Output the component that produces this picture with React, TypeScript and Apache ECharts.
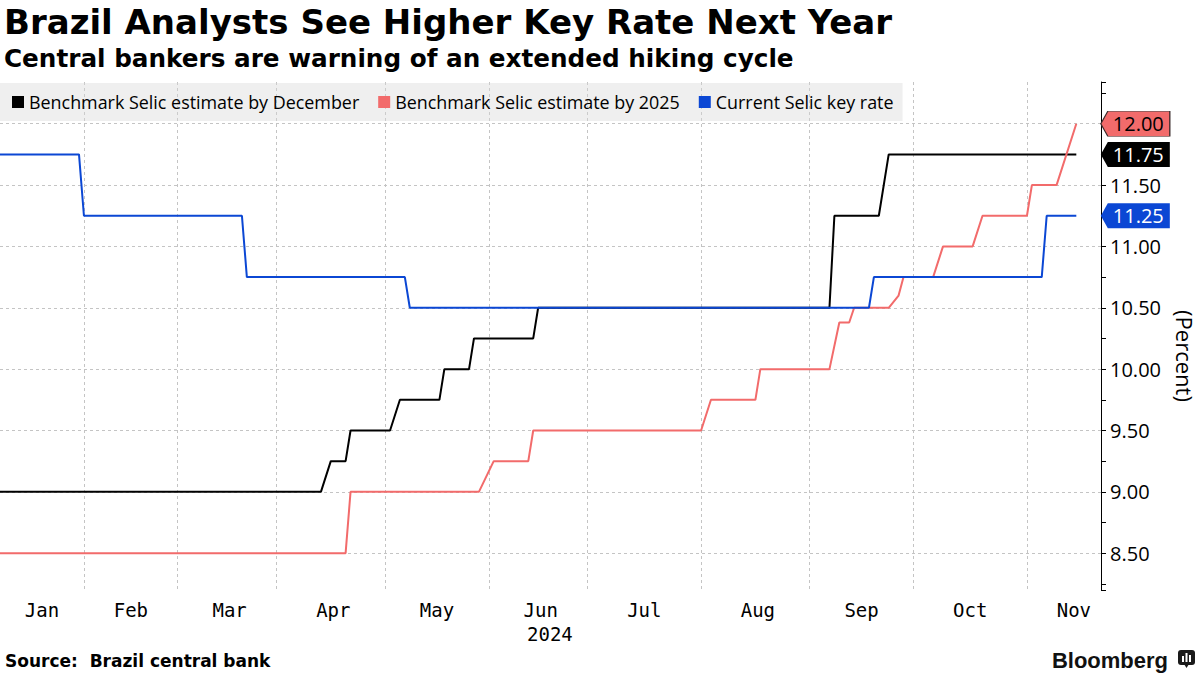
import React, { useEffect, useRef } from "react";
import * as echarts from "echarts";

// ---- calendar (Brazilian business days, 2024) ----
const HOLIDAYS = ["2024-01-01", "2024-02-12", "2024-02-13", "2024-03-29", "2024-05-01", "2024-05-30", "2024-11-15", "2024-11-20", "2024-12-25"];
const FIRST_DAY = "2024-01-09";
const DAY_COUNT = 224;
const MONTH_NAMES = ["Jan", "Feb", "Mar", "Apr", "May", "Jun", "Jul", "Aug", "Sep", "Oct", "Nov", "Dec"];
const YEAR_LABEL = "2024";

// ---- series (change points: [date, percent]) ----
const SERIES_NAMES = [
  "Benchmark Selic estimate by December",
  "Benchmark Selic estimate by 2025",
  "Current Selic key rate",
];
const SERIES_COLORS = ["#000000", "#f26b6b", "#0b47d4"];
const TAG_TEXT_COLORS = ["#ffffff", "#000000", "#ffffff"];

const decEstimate: [string, number][] = [
  ["2024-01-09", 9.0], ["2024-04-12", 9.0], ["2024-04-16", 9.25], ["2024-04-19", 9.25],
  ["2024-04-22", 9.5], ["2024-05-03", 9.5], ["2024-05-07", 9.75], ["2024-05-17", 9.75],
  ["2024-05-20", 10.0], ["2024-05-27", 10.0], ["2024-05-28", 10.25], ["2024-06-14", 10.25],
  ["2024-06-17", 10.5], ["2024-09-06", 10.5], ["2024-09-09", 11.25], ["2024-09-20", 11.25],
  ["2024-09-24", 11.75], ["2024-11-18", 11.75],
];
const estimate2025: [string, number][] = [
  ["2024-01-09", 8.5], ["2024-04-19", 8.5], ["2024-04-22", 9.0], ["2024-05-29", 9.0],
  ["2024-06-04", 9.25], ["2024-06-13", 9.25], ["2024-06-14", 9.5], ["2024-08-01", 9.5],
  ["2024-08-05", 9.75], ["2024-08-16", 9.75], ["2024-08-19", 10.0], ["2024-09-06", 10.0],
  ["2024-09-10", 10.38], ["2024-09-12", 10.38], ["2024-09-13", 10.5], ["2024-09-24", 10.5],
  ["2024-09-26", 10.6], ["2024-09-27", 10.75], ["2024-10-07", 10.75], ["2024-10-09", 11.0],
  ["2024-10-17", 11.0], ["2024-10-21", 11.25], ["2024-11-01", 11.25], ["2024-11-04", 11.5],
  ["2024-11-11", 11.5], ["2024-11-18", 12.0],
];
const currentRate: [string, number][] = [
  ["2024-01-09", 11.75], ["2024-01-31", 11.75], ["2024-02-01", 11.25], ["2024-03-20", 11.25],
  ["2024-03-21", 10.75], ["2024-05-08", 10.75], ["2024-05-09", 10.5], ["2024-09-18", 10.5],
  ["2024-09-19", 10.75], ["2024-11-06", 10.75], ["2024-11-07", 11.25], ["2024-11-18", 11.25],
];
const ALL_SERIES = [decEstimate, estimate2025, currentRate];

const Y_MIN = 8.2;
const Y_MAX = 12.34;

function isoOf(d: Date) {
  return d.toISOString().slice(0, 10);
}
function businessDaysOfYear(): string[] {
  const out: string[] = [];
  const d = new Date(Date.UTC(2024, 0, 1));
  while (d.getUTCFullYear() === 2024) {
    const wd = d.getUTCDay();
    const s = isoOf(d);
    if (wd !== 0 && wd !== 6 && HOLIDAYS.indexOf(s) < 0) out.push(s);
    d.setUTCDate(d.getUTCDate() + 1);
  }
  return out;
}

export default function App() {
  const ref = useRef<HTMLDivElement>(null);

  useEffect(() => {
    if (!ref.current) return;
    const chart = echarts.init(ref.current, undefined, { renderer: "svg" });

    const allDays = businessDaysOfYear();
    const offset = allDays.indexOf(FIRST_DAY);
    const categories = allDays.slice(offset, offset + DAY_COUNT);

    const monthStartIdx: Record<number, number> = {};
    allDays.forEach((s, i) => {
      const m = parseInt(s.slice(5, 7), 10) - 1;
      if (monthStartIdx[m] === undefined) monthStartIdx[m] = i - offset;
    });
    const splitIdx = new Set<number>();
    const labelIdx = new Set<number>();
    for (let m = 0; m < 12; m++) {
      const st = monthStartIdx[m];
      const nx = m < 11 ? monthStartIdx[m + 1] : allDays.length - offset;
      if (st > 0 && st < DAY_COUNT) splitIdx.add(st);
      if (nx > 0 && st < DAY_COUNT) {
        labelIdx.add(Math.floor((Math.max(st, 0) + nx) / 2));
      }
    }

    // values hidden under the end-of-line tags
    const tagValues = ALL_SERIES.map((pts) => pts[pts.length - 1][1]);

    const FONT = "'Open Sans', 'DejaVu Sans', sans-serif";

    const series: any[] = ALL_SERIES.map((pts, k) => {
      const last = pts[pts.length - 1];
      return {
        name: SERIES_NAMES[k],
        type: "line",
        data: pts.map((p) => [p[0], p[1]]),
        showSymbol: false,
        symbol: "none",
        clip: false,
        lineStyle: { color: SERIES_COLORS[k], width: 2 },
        itemStyle: { color: SERIES_COLORS[k] },
        z: 3 + k,
        markPoint: {
          silent: true,
          symbol: "path://M0,12.5L7,0L69,0L69,25L7,25Z",
          symbolSize: [69, 25],
          symbolOffset: [59, 0],
          itemStyle: {
            color: SERIES_COLORS[k],
            borderColor: k === 1 ? "#3a2a2a" : SERIES_COLORS[k],
            borderWidth: k === 1 ? 0.8 : 0,
          },
          label: {
            show: true,
            position: "inside",
            offset: [3, 0],
            formatter: (p: any) => Number(p.value).toFixed(2),
            color: TAG_TEXT_COLORS[k],
            fontSize: 20,
            fontFamily: FONT,
          },
          data: [{ coord: [last[0], last[1]], value: last[1] }],
        },
      };
    });

    const option: any = {
      animation: false,
      backgroundColor: "#ffffff",
      grid: { left: 0, right: 99, top: 82, bottom: 85, containLabel: false, outerBoundsMode: "none" },
      legend: {
        data: SERIES_NAMES,
        left: 0,
        top: 83,
        orient: "horizontal",
        icon: "rect",
        itemWidth: 12,
        itemHeight: 12,
        itemGap: 19,
        padding: [10, 9, 10, 12],
        backgroundColor: "rgba(215,215,215,0.4)",
        selectedMode: false,
        textStyle: { color: "#000", fontSize: 17.9, fontFamily: FONT },
      },
      xAxis: {
        type: "category",
        data: categories,
        boundaryGap: false,
        axisLine: { show: false },
        axisTick: { show: false },
        axisLabel: {
          interval: (i: number) => labelIdx.has(i),
          formatter: (v: string) => MONTH_NAMES[parseInt(v.slice(5, 7), 10) - 1],
          color: "#000",
          fontSize: 19,
          fontFamily: "'DejaVu Sans Mono', monospace",
          margin: 10,
          padding: [0, 0, 0, 5],
        },
        splitLine: {
          show: true,
          interval: (i: number) => splitIdx.has(i),
          lineStyle: { color: "#c4c4c4", width: 1, type: [3, 3] },
        },
      },
      yAxis: {
        type: "value",
        position: "right",
        min: Y_MIN,
        max: Y_MAX,
        minInterval: 0.5,
        maxInterval: 0.5,
        splitNumber: 8,
        scale: true,
        axisLine: { show: true, lineStyle: { color: "#000", width: 1 } },
        axisTick: { show: true, length: 5, inside: false, lineStyle: { color: "#000" } },
        minorTick: { show: true, splitNumber: 2, length: 5, lineStyle: { color: "#000" } },
        axisLabel: {
          showMinLabel: false,
          showMaxLabel: false,
          formatter: (v: number) =>
            tagValues.some((t) => Math.abs(t - v) < 1e-6) ? "" : v.toFixed(2),
          color: "#000",
          fontSize: 20,
          fontFamily: FONT,
          margin: 9,
        },
        splitLine: {
          show: true,
          showMinLine: false,
          showMaxLine: false,
          lineStyle: { color: "#c4c4c4", width: 1, type: [3, 3] },
        },
      },
      series,
      graphic: [
        {
          type: "text",
          left: 4,
          top: 5,
          style: {
            text: "Brazil Analysts See Higher Key Rate Next Year",
            fontSize: 34,
            fontWeight: "bold",
            fontFamily: "'DejaVu Sans', sans-serif",
            fill: "#000",
          },
        },
        {
          type: "text",
          left: 4,
          top: 46,
          style: {
            text: "Central bankers are warning of an extended hiking cycle",
            fontSize: 24.7,
            fontWeight: "bold",
            fontFamily: "'DejaVu Sans', sans-serif",
            fill: "#000",
          },
        },
        {
          type: "text",
          x: 1185,
          y: 356,
          rotation: -Math.PI / 2,
          style: {
            text: "(Percent)",
            fontSize: 22,
            fontFamily: FONT,
            fill: "#000",
            align: "center",
            verticalAlign: "middle",
          },
        },
        {
          type: "text",
          x: 527,
          y: 634,
          style: {
            text: YEAR_LABEL,
            fontSize: 19,
            fontFamily: "'DejaVu Sans Mono', monospace",
            fill: "#000",
            align: "left",
            verticalAlign: "middle",
          },
        },
        {
          type: "text",
          x: 5,
          y: 661,
          style: {
            text: "Source:  Brazil central bank",
            fontSize: 17,
            fontWeight: "bold",
            fontFamily: "'DejaVu Sans', sans-serif",
            fill: "#000",
            verticalAlign: "middle",
          },
        },
        {
          type: "text",
          x: 1168,
          y: 660,
          style: {
            text: "Bloomberg",
            fontSize: 22,
            fontWeight: "bold",
            fontFamily: "'Liberation Sans', Arial, sans-serif",
            fill: "#111",
            align: "right",
            verticalAlign: "middle",
          },
        },
        {
          type: "group",
          x: 1178,
          y: 650,
          children: [
            { type: "rect", shape: { x: 0, y: 0, width: 17, height: 15, r: 3 }, style: { fill: "#1a1a1a" } },
            { type: "polygon", shape: { points: [[6, 14], [11, 14], [8.5, 18]] }, style: { fill: "#1a1a1a" } },
            { type: "rect", shape: { x: 4, y: 6, width: 2, height: 6 }, style: { fill: "#fff" } },
            { type: "rect", shape: { x: 7.5, y: 3, width: 2, height: 9 }, style: { fill: "#fff" } },
            { type: "rect", shape: { x: 11, y: 5, width: 2, height: 7 }, style: { fill: "#fff" } },
          ],
        },
      ],
    };

    chart.setOption(option);
    return () => chart.dispose();
  }, []);

  return (
    <div
      ref={ref}
      style={{ position: "fixed", left: 0, top: 0, width: 1200, height: 675, background: "#fff" }}
    />
  );
}
